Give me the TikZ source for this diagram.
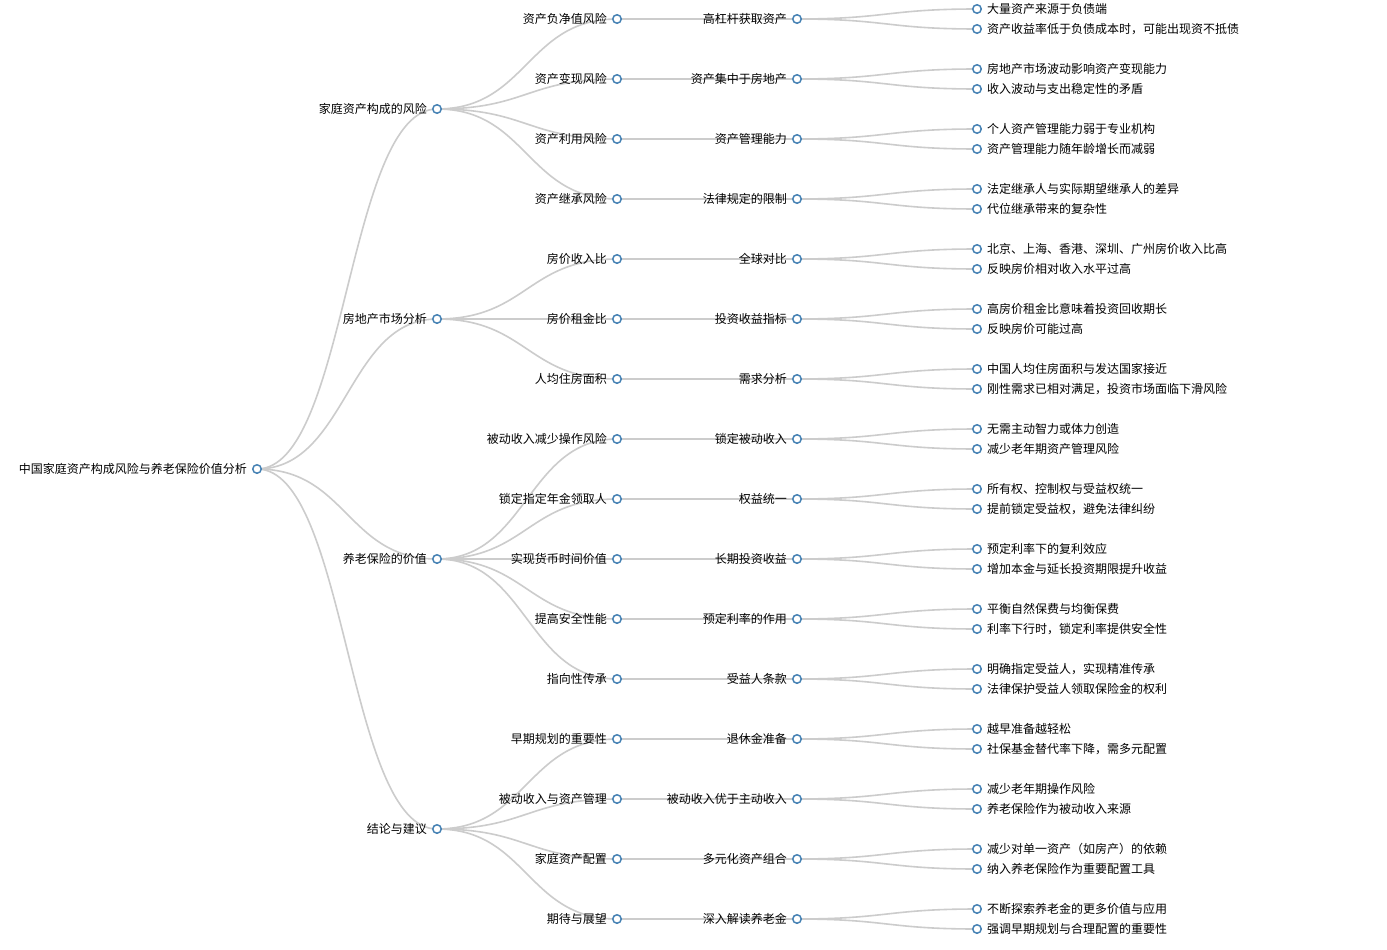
\documentclass[tikz,border=0pt]{standalone}
\usepackage{fontspec}
\setmainfont{Noto Sans CJK SC}
\usepackage{xcolor}
\usepackage{tikz}
\usetikzlibrary{backgrounds,calc}

\definecolor{nodeblue}{HTML}{4682B4}
\definecolor{linkgray}{HTML}{CCCCCC}

\tikzset{
  dot/.style={circle, draw=nodeblue, fill=white, line width=1.5pt, inner sep=0pt, minimum size=8.5pt},
  txtleft/.style={dot, label={[font=\fontsize{12}{14}\selectfont, inner sep=0pt, label distance=5pt]left:#1}},
  txtright/.style={dot, label={[font=\fontsize{12}{14}\selectfont, inner sep=0pt, label distance=5pt]right:#1}},
  link/.style={draw=linkgray, line width=1.6pt}
}

% horizontal tree link, control points halfway between the two nodes
\newcommand\treelink[2]{\draw[link] let \p1=(#1), \p2=(#2) in
  (\p1) .. controls ({(\x1+\x2)/2},\y1) and ({(\x1+\x2)/2},\y2) .. (\p2);}

\begin{document}
\begin{tikzpicture}[x=1pt, y=-1pt]

\useasboundingbox (0,0) rectangle (1387,950);
\begin{scope}[on background layer]
\fill[white] (0,0) rectangle (1387,950);
\end{scope}

% root and first level
\node[txtleft={中国家庭资产构成风险与养老保险价值分析}] (root) at (257,469) {};
\node[txtleft={家庭资产构成的风险}] (risk) at (437,109) {};
\node[txtleft={房地产市场分析}] (estate) at (437,319) {};
\node[txtleft={养老保险的价值}] (pension) at (437,559) {};
\node[txtleft={结论与建议}] (advice) at (437,829) {};

\begin{scope}[on background layer]
\treelink{root}{risk}
\treelink{root}{estate}
\treelink{root}{pension}
\treelink{root}{advice}
\end{scope}

% second, third level and leaves
\foreach \i/\up/\two/\three/\ta/\tb in {
  1/risk/资产负净值风险/高杠杆获取资产/大量资产来源于负债端/资产收益率低于负债成本时，可能出现资不抵债,
  2/risk/资产变现风险/资产集中于房地产/房地产市场波动影响资产变现能力/收入波动与支出稳定性的矛盾,
  3/risk/资产利用风险/资产管理能力/个人资产管理能力弱于专业机构/资产管理能力随年龄增长而减弱,
  4/risk/资产继承风险/法律规定的限制/法定继承人与实际期望继承人的差异/代位继承带来的复杂性,
  5/estate/房价收入比/全球对比/北京、上海、香港、深圳、广州房价收入比高/反映房价相对收入水平过高,
  6/estate/房价租金比/投资收益指标/高房价租金比意味着投资回收期长/反映房价可能过高,
  7/estate/人均住房面积/需求分析/中国人均住房面积与发达国家接近/刚性需求已相对满足，投资市场面临下滑风险,
  8/pension/被动收入减少操作风险/锁定被动收入/无需主动智力或体力创造/减少老年期资产管理风险,
  9/pension/锁定指定年金领取人/权益统一/所有权、控制权与受益权统一/提前锁定受益权，避免法律纠纷,
  10/pension/实现货币时间价值/长期投资收益/预定利率下的复利效应/增加本金与延长投资期限提升收益,
  11/pension/提高安全性能/预定利率的作用/平衡自然保费与均衡保费/利率下行时，锁定利率提供安全性,
  12/pension/指向性传承/受益人条款/明确指定受益人，实现精准传承/法律保护受益人领取保险金的权利,
  13/advice/早期规划的重要性/退休金准备/越早准备越轻松/社保基金替代率下降，需多元配置,
  14/advice/被动收入与资产管理/被动收入优于主动收入/减少老年期操作风险/养老保险作为被动收入来源,
  15/advice/家庭资产配置/多元化资产组合/减少对单一资产（如房产）的依赖/纳入养老保险作为重要配置工具,
  16/advice/期待与展望/深入解读养老金/不断探索养老金的更多价值与应用/强调早期规划与合理配置的重要性}
{
  \node[txtleft={\two}] (k\i) at (617,{60*\i-41}) {};
  \node[txtleft={\three}] (d\i) at (797,{60*\i-41}) {};
  \node[txtright={\ta}] (la\i) at (977,{60*\i-51}) {};
  \node[txtright={\tb}] (lb\i) at (977,{60*\i-31}) {};
  \begin{scope}[on background layer]
  \treelink{\up}{k\i}
  \treelink{k\i}{d\i}
  \treelink{d\i}{la\i}
  \treelink{d\i}{lb\i}
  \end{scope}
}

\end{tikzpicture}
\end{document}
